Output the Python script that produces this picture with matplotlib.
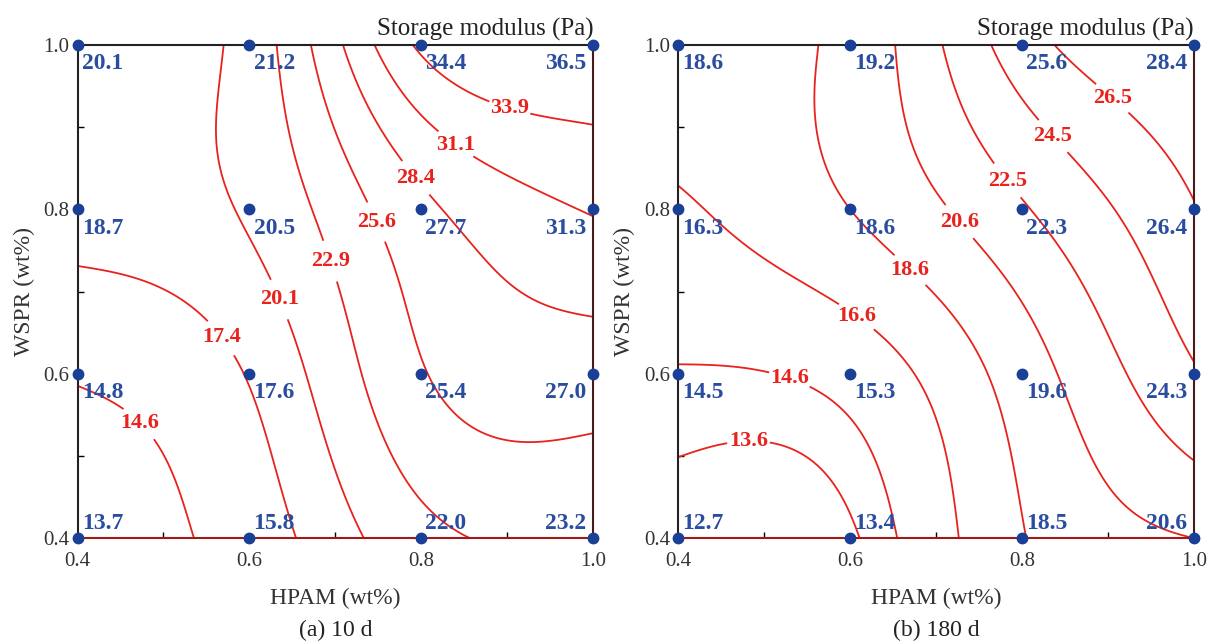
import numpy as np
import matplotlib.pyplot as plt
from matplotlib.ticker import MultipleLocator

plt.rcParams['font.family'] = ['Liberation Serif', 'DejaVu Serif']

hpam = [0.4, 0.6, 0.8, 1.0]
wspr = [0.4, 0.6, 0.8, 1.0]

# storage modulus (Pa), rows = WSPR 0.4 -> 1.0, cols = HPAM 0.4 -> 1.0
g_10d = [[13.7, 15.8, 22.0, 23.2],
         [14.8, 17.6, 25.4, 27.0],
         [18.7, 20.5, 27.7, 31.3],
         [20.1, 21.2, 34.4, 36.5]]
g_180d = [[12.7, 13.4, 18.5, 20.6],
          [14.5, 15.3, 19.6, 24.3],
          [16.3, 18.6, 22.3, 26.4],
          [18.6, 19.2, 25.6, 28.4]]

levels_10d = [14.6, 17.4, 20.1, 22.9, 25.6, 28.4, 31.1, 33.9]
levels_180d = [13.6, 14.6, 16.6, 18.6, 20.6, 22.5, 24.5, 26.5]

# where each contour label sits (HPAM, WSPR), same order as the levels
lab_10d = [(0.462, 0.529), (0.564, 0.641), (0.634, 0.690), (0.688, 0.735),
           (0.744, 0.783), (0.793, 0.838), (0.837, 0.875), (0.901, 0.917)]
lab_180d = [(0.482, 0.503), (0.527, 0.586), (0.611, 0.675), (0.673, 0.730),
            (0.720, 0.779), (0.779, 0.832), (0.837, 0.890), (0.904, 0.934)]

RED = '#e8221c'


def natural_spline(xn, yn, xq):
    xn = np.asarray(xn, float)
    yn = np.asarray(yn, float)
    n = len(xn)
    h = np.diff(xn)
    A = np.zeros((n, n))
    b = np.zeros(n)
    A[0, 0] = A[-1, -1] = 1
    for i in range(1, n - 1):
        A[i, i - 1] = h[i - 1]
        A[i, i] = 2 * (h[i - 1] + h[i])
        A[i, i + 1] = h[i]
        b[i] = 6 * ((yn[i + 1] - yn[i]) / h[i] - (yn[i] - yn[i - 1]) / h[i - 1])
    M = np.linalg.solve(A, b)
    k = np.clip(np.searchsorted(xn, xq) - 1, 0, n - 2)
    x0, x1, hk = xn[k], xn[k + 1], h[k]
    t0, t1 = x1 - xq, xq - x0
    return (M[k] * t0**3 / (6 * hk) + M[k + 1] * t1**3 / (6 * hk)
            + (yn[k] / hk - M[k] * hk / 6) * t0
            + (yn[k + 1] / hk - M[k + 1] * hk / 6) * t1)


def surface(z, xq, yq):
    z = np.asarray(z, float)
    rows = np.array([natural_spline(hpam, r, xq) for r in z])
    return np.array([natural_spline(wspr, rows[:, j], yq) for j in range(len(xq))]).T


fig, axes = plt.subplots(1, 2, figsize=(12.11, 6.43), dpi=100)
fig.subplots_adjust(left=0.064, right=0.986, top=0.930, bottom=0.163, wspace=0.165)

xq = np.linspace(0.4, 1.0, 301)
yq = np.linspace(0.4, 1.0, 301)
X, Y = np.meshgrid(xq, yq)

panels = [(axes[0], g_10d, levels_10d, lab_10d, '(a) 10 d'),
          (axes[1], g_180d, levels_180d, lab_180d, '(b) 180 d')]

for ax, g, levels, labpos, tag in panels:
    Z = surface(g, xq, yq)
    for lev, pos in zip(levels, labpos):
        cs = ax.contour(X, Y, Z, levels=[lev], colors=RED, linewidths=1.3)
        txt = ax.clabel(cs, fmt='%.1f', fontsize=16, manual=[pos],
                        inline=True, inline_spacing=2)
        for t in txt:
            t.set_rotation(0)
            t.set_fontweight('bold')
            t.set_color(RED)

    for i, yv in enumerate(wspr):
        for j, xv in enumerate(hpam):
            ax.plot(xv, yv, 'o', color='#1a3f96', ms=7.5, clip_on=False, zorder=5)
            ha = 'right' if j == len(hpam) - 1 else 'left'
            dx = -5 if ha == 'right' else 3
            va = 'bottom' if i == 0 else 'top'
            dy = 3 if va == 'bottom' else -6
            ax.annotate(f'{g[i][j]:.1f}', (xv, yv), xytext=(dx, dy),
                        textcoords='offset points', ha=ha, va=va,
                        fontsize=17, fontweight='bold', color='#2a4da0', zorder=6)

    ax.set_xlim(0.4, 1.0)
    ax.set_ylim(0.4, 1.0)
    ax.set_xticks([0.4, 0.6, 0.8, 1.0])
    ax.set_yticks([0.4, 0.6, 0.8, 1.0])
    ax.xaxis.set_minor_locator(MultipleLocator(0.1))
    ax.yaxis.set_minor_locator(MultipleLocator(0.1))
    ax.tick_params(which='major', length=0, labelsize=15, labelcolor='#333333', pad=6)
    ax.tick_params(axis='x', which='major', pad=10)
    ax.tick_params(which='minor', direction='in', length=4, width=1)
    for s in ax.spines.values():
        s.set_linewidth(1.5)
        s.set_color('#222222')
    ax.spines['bottom'].set_color('#a01818')
    ax.spines['right'].set_color('#4a1a1a')

    ax.set_xlabel('HPAM (wt%)', fontsize=17, color='#333333', labelpad=12)
    ax.set_ylabel('WSPR (wt%)', fontsize=17, color='#333333', labelpad=6)
    ax.text(1.0, 1.008, 'Storage modulus (Pa)', transform=ax.transAxes,
            ha='right', va='bottom', fontsize=18, color='#222222')
    ax.text(0.5, -0.188, tag, transform=ax.transAxes, ha='center', va='center',
            fontsize=17, color='#222222')

fig.savefig('out.png', dpi=100)
